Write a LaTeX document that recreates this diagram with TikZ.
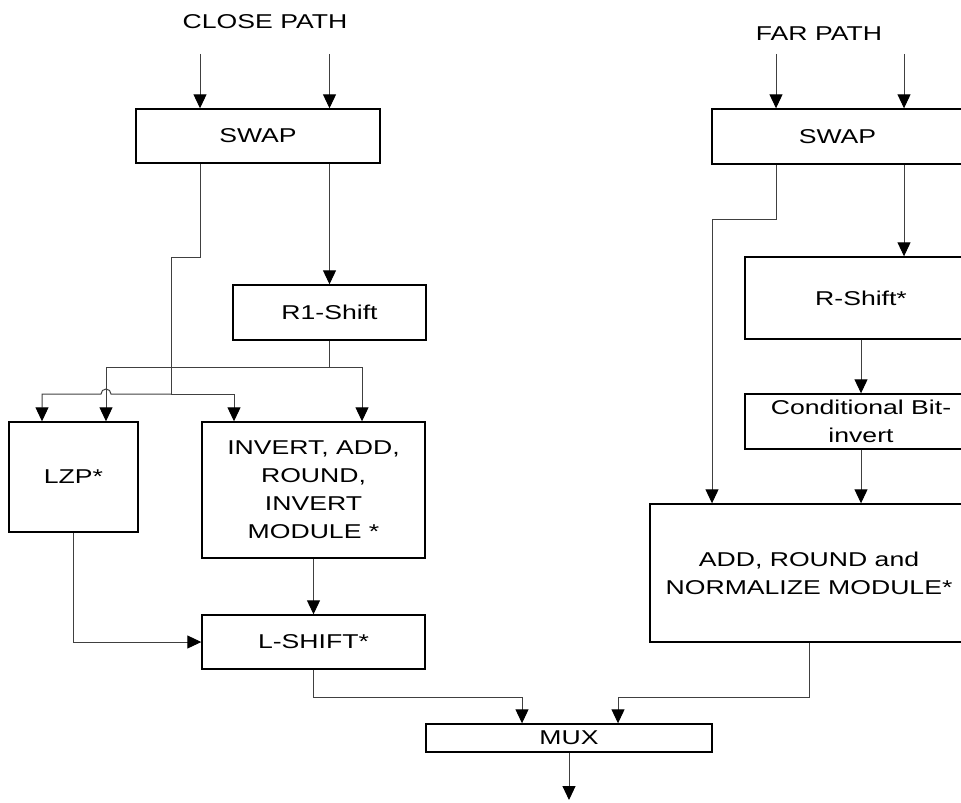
\documentclass[tikz,border=0pt]{standalone}
\usepackage{fontspec}
\setmainfont{Liberation Sans}[FakeStretch=1.33]
\usetikzlibrary{arrows.meta}
\tikzset{
	blk/.style 2 args={draw,line width=0.7pt,minimum width=#1*0.5pt,minimum height=#2*0.5pt,inner sep=0pt,align=center},
	wire/.style={line width=0.5pt,black!75},
	lbl/.style={inner sep=0pt}
}
\begin{document}
\begin{tikzpicture}[x=0.5pt,y=-0.5pt,>={Triangle[length=7pt,width=6.5pt,color=black]},font=\fontsize{10}{14}\selectfont]
	\useasboundingbox (0,0) rectangle (961,802);
	\clip (0,0) rectangle (961,802);
	\node[lbl] (closeT) at (265,22) {CLOSE PATH};
	\node[lbl] (farT) at (819,34) {FAR PATH};
	\node[blk={244}{54}] (swapL) at (258,136) {SWAP};
	\node[blk={193}{55}] (rOne) at (329.5,312.5) {R1-Shift};
	\node[blk={129}{110}] (lzp) at (73.5,477) {LZP*};
	\node[blk={223}{136}] (inv) at (313.5,490) {INVERT, ADD,\\ROUND,\\INVERT\\MODULE *};
	\node[blk={223}{54}] (lsh) at (313.5,642) {L-SHIFT*};
	\node[blk={286}{28}] (mux) at (569,738) {MUX};
	\node[blk={251}{55}] (swapR) at (837.5,136.5) {SWAP};
	\node[blk={232}{82}] (rsh) at (861,298) {R-Shift*};
	\node[blk={232}{55}] (cbi) at (861,421.5) {Conditional Bit-\\invert};
	\node[blk={318}{138}] (arn) at (809,573) {ADD, ROUND and\\NORMALIZE MODULE*};
	\coordinate (inL1) at (200,54);
	\coordinate (inL2) at (329.5,54);
	\coordinate (inR1) at (776,54);
	\coordinate (inR2) at (904,54);
	\coordinate (busA) at (106,367);
	\coordinate (busB) at (42,394);
	\coordinate (jB) at (171,394);
	\coordinate (out) at (569,800);
	% close path
	\draw[wire,->] (inL1) -- (inL1 |- swapL.north);
	\draw[wire,->] (inL2) -- (inL2 |- swapL.north);
	\draw[wire,->] (swapL.south -| rOne.north) -- (rOne.north);
	\draw[wire] (inL1 |- swapL.south) -- (200,257) -| (jB);
	\draw[wire,->] (rOne.south) |- (busA) -- (busA |- lzp.north);
	\draw[wire,->] (rOne.south |- busA) -| ([xshift=24.25pt]inv.north);
	\draw[wire,->] (jB) -- (111,394) arc[start angle=0,end angle=-180,radius=5] -- (busB) -- (busB |- lzp.north);
	\draw[wire,->] (jB) -| ([xshift=-39.75pt]inv.north);
	\draw[wire,->] (inv.south) -- (lsh.north);
	\draw[wire,->] (lzp.south) |- (lsh.west);
	% far path
	\draw[wire,->] (inR1) -- (inR1 |- swapR.north);
	\draw[wire,->] (inR2) -- (inR2 |- swapR.north);
	\draw[wire,->] (inR2 |- swapR.south) -- (inR2 |- rsh.north);
	\draw[wire,->] (inR1 |- swapR.south) -- (776,219) -| ([xshift=-48.5pt]arn.north);
	\draw[wire,->] (rsh.south) -- (cbi.north);
	\draw[wire,->] (cbi.south) -- (cbi.south |- arn.north);
	% mux
	\draw[wire,->] (lsh.south) -- ++(0,28) -| ([xshift=-23.5pt]mux.north);
	\draw[wire,->] (arn.south) -- ++(0,55) -| ([xshift=24.5pt]mux.north);
	\draw[wire,->] (mux.south) -- (out);
\end{tikzpicture}
\end{document}
